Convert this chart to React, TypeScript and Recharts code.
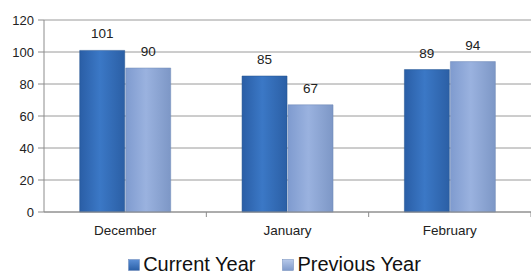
import { Bar, BarChart, CartesianGrid, LabelList, Legend, XAxis, YAxis } from 'recharts';

const months = ['December', 'January', 'February'];
const currentYear = [101, 85, 89];
const previousYear = [90, 67, 94];
const yTicks = [0, 20, 40, 60, 80, 100, 120];

const data = months.map((month, i) => ({
  month,
  current: currentYear[i],
  previous: previousYear[i],
}));

const W = 531;
const H = 277;
const Y_AXIS_W = 44;
const BAND = (W - Y_AXIS_W) / months.length;
const FONT = '"Liberation Sans", Arial, sans-serif';

function MonthTick({ x, y, payload }: any) {
  return (
    <g>
      <line x1={x + BAND / 2} x2={x + BAND / 2} y1={y - 8} y2={y - 3} stroke="#8c8c8c" />
      <text x={x} y={y + 15} textAnchor="middle" fill="#222" fontSize={13.5} fontFamily={FONT}>
        {payload.value}
      </text>
    </g>
  );
}

function LegendBox() {
  const items = [
    { label: 'Current Year', fill: 'url(#legCur)' },
    { label: 'Previous Year', fill: 'url(#legPrev)' },
  ];
  return (
    <div
      style={{
        display: 'flex',
        justifyContent: 'center',
        gap: 27,
        fontFamily: FONT,
        fontSize: 20,
        lineHeight: '23px',
        color: '#111',
        paddingTop: 16,
        paddingLeft: 18,
      }}
    >
      {items.map((it) => (
        <div key={it.label} style={{ display: 'flex', alignItems: 'center', gap: 3 }}>
          <svg width={12} height={12}>
            <defs>
              <linearGradient id="legCur" x1="0" y1="0" x2="0" y2="1">
                <stop offset="0%" stopColor="#5b8fd6" />
                <stop offset="100%" stopColor="#2a5fa6" />
              </linearGradient>
              <linearGradient id="legPrev" x1="0" y1="0" x2="0" y2="1">
                <stop offset="0%" stopColor="#b7c9ea" />
                <stop offset="100%" stopColor="#7f9acb" />
              </linearGradient>
            </defs>
            <rect x={0.5} y={0.5} width={11} height={11} fill={it.fill} stroke="#6d88b8" strokeWidth={0.5} />
          </svg>
          <span>{it.label}</span>
        </div>
      ))}
    </div>
  );
}

export default function App() {
  return (
    <div style={{ position: 'absolute', left: 0, top: 0, background: '#fff' }}>
      <BarChart
        width={W}
        height={H}
        data={data}
        margin={{ top: 20, right: 0, left: 0, bottom: 0 }}
        barCategoryGap="22%"
        barGap={1}
      >
        <defs>
          <linearGradient id="gCur" x1="0" y1="0" x2="1" y2="0">
            <stop offset="0%" stopColor="#2a5ea6" />
            <stop offset="45%" stopColor="#3b78c6" />
            <stop offset="100%" stopColor="#2b5fa5" />
          </linearGradient>
          <linearGradient id="gPrev" x1="0" y1="0" x2="1" y2="0">
            <stop offset="0%" stopColor="#7f9bcf" />
            <stop offset="45%" stopColor="#9ab2df" />
            <stop offset="100%" stopColor="#7d97c6" />
          </linearGradient>
        </defs>
        <CartesianGrid vertical={false} stroke="#9a9a9a" />
        <XAxis
          dataKey="month"
          height={25}
          tickLine={false}
          axisLine={{ stroke: '#8c8c8c' }}
          tick={<MonthTick />}
          interval={0}
        />
        <YAxis
          width={Y_AXIS_W}
          domain={[0, 120]}
          ticks={yTicks}
          tickSize={6}
          tickMargin={4}
          axisLine={{ stroke: '#8c8c8c' }}
          tickLine={{ stroke: '#8c8c8c' }}
          tick={{ fill: '#222', fontSize: 13, fontFamily: FONT }}
        />
        <Legend verticalAlign="bottom" height={40} content={<LegendBox />} />
        <Bar dataKey="current" name="Current Year" fill="url(#gCur)" stroke="#23528f" strokeWidth={0.5} isAnimationActive={false}>
          <LabelList dataKey="current" position="top" offset={12} fill="#222" fontSize={13.5} fontFamily={FONT} />
        </Bar>
        <Bar dataKey="previous" name="Previous Year" fill="url(#gPrev)" stroke="#6f88b6" strokeWidth={0.5} isAnimationActive={false}>
          <LabelList dataKey="previous" position="top" offset={12} fill="#222" fontSize={13.5} fontFamily={FONT} />
        </Bar>
      </BarChart>
    </div>
  );
}
